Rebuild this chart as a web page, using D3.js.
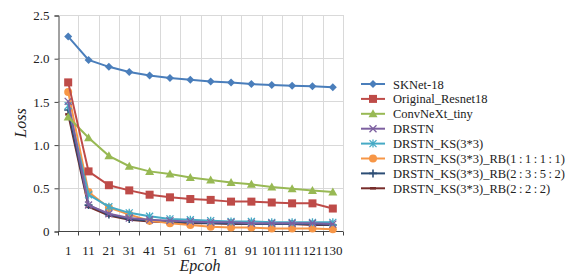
<!DOCTYPE html>
<html>
<head>
<meta charset="utf-8">
<script src="https://cdn.jsdelivr.net/npm/d3@7"></script>
<style>
  body { margin: 0; background: #fff; }
</style>
</head>
<body>
<svg id="chart" width="576" height="274"></svg>
<script>
// epochs on the x axis
const epochs = ["1", "11", "21", "31", "41", "51", "61", "71", "81", "91", "101", "111", "121", "130"];

// loss values
const skNet      = [2.25, 1.98, 1.90, 1.84, 1.80, 1.77, 1.75, 1.73, 1.72, 1.70, 1.69, 1.68, 1.675, 1.665];
const resnet18   = [1.72, 0.69, 0.53, 0.47, 0.42, 0.39, 0.37, 0.36, 0.34, 0.34, 0.33, 0.32, 0.32, 0.26];
const convNext   = [1.32, 1.08, 0.87, 0.75, 0.69, 0.66, 0.62, 0.59, 0.56, 0.54, 0.51, 0.49, 0.47, 0.45];
const drstn      = [1.50, 0.30, 0.20, 0.15, 0.13, 0.12, 0.11, 0.10, 0.10, 0.09, 0.09, 0.09, 0.09, 0.08];
const drstnKs    = [1.45, 0.42, 0.28, 0.21, 0.17, 0.14, 0.13, 0.12, 0.11, 0.11, 0.10, 0.10, 0.10, 0.10];
const drstnRb1   = [1.61, 0.45, 0.27, 0.19, 0.12, 0.09, 0.07, 0.05, 0.04, 0.04, 0.03, 0.03, 0.03, 0.02];
const drstnRb2   = [1.40, 0.30, 0.19, 0.14, 0.12, 0.11, 0.10, 0.09, 0.09, 0.08, 0.08, 0.08, 0.08, 0.07];
const drstnRb3   = [1.35, 0.28, 0.18, 0.13, 0.11, 0.10, 0.09, 0.09, 0.08, 0.08, 0.08, 0.08, 0.07, 0.07];

const yTicks = [0, 0.5, 1.0, 1.5, 2.0, 2.5];

const series = [
  { name: "SKNet-18", values: skNet, color: "#4a7ebb", marker: "diamond" },
  { name: "Original_Resnet18", values: resnet18, color: "#be4b48", marker: "square" },
  { name: "ConvNeXt_tiny", values: convNext, color: "#98b954", marker: "triangle" },
  { name: "DRSTN", values: drstn, color: "#7d60a0", marker: "x" },
  { name: "DRSTN_KS(3*3)", values: drstnKs, color: "#46aac5", marker: "star" },
  { name: "DRSTN_KS(3*3)_RB(1\u2009:\u20091\u2009:\u20091\u2009:\u20091)", values: drstnRb1, color: "#f79646", marker: "circle" },
  { name: "DRSTN_KS(3*3)_RB(2\u2009:\u20093\u2009:\u20095\u2009:\u20092)", values: drstnRb2, color: "#2c4d75", marker: "plus" },
  { name: "DRSTN_KS(3*3)_RB(2\u2009:\u20092\u2009:\u20092)", values: drstnRb3, color: "#772c2a", marker: "dash" }
];

const FONT = "Liberation Serif";

const svg = d3.select("#chart");
const plotLeft = 58, plotRight = 343, plotTop = 15, plotBottom = 231;

const x = d3.scaleBand().domain(epochs).range([plotLeft, plotRight]);
const y = d3.scaleLinear().domain([0, 2.5]).range([plotBottom, plotTop]);

// grid
const grid = svg.append("g").attr("stroke", "#d9d9d9").attr("stroke-width", 1);
yTicks.filter(d => d > 0).forEach(t => {
  grid.append("line").attr("x1", plotLeft).attr("x2", plotRight)
    .attr("y1", Math.round(y(t)) + 0.5).attr("y2", Math.round(y(t)) + 0.5);
});
epochs.forEach(e => {
  const gx = Math.round(x(e) + x.bandwidth()) + 0.5;
  grid.append("line").attr("x1", gx).attr("x2", gx).attr("y1", plotTop).attr("y2", plotBottom);
});

// y axis
const yAxis = svg.append("g")
  .attr("transform", `translate(${plotLeft + 0.5},0.5)`)
  .call(d3.axisLeft(y).tickValues(yTicks).tickSize(4).tickPadding(5)
    .tickFormat(d => d === 0 ? "0" : d3.format(".1f")(d)));
yAxis.select(".domain").attr("stroke", "#444");
yAxis.selectAll(".tick line").attr("stroke", "#444");
yAxis.selectAll("text").attr("fill", "#222")
  .style("font-family", FONT).style("font-size", "13px");

// x axis: ticks on the band boundaries, labels at band centres
const xg = svg.append("g").attr("transform", `translate(0,${plotBottom + 0.5})`);
xg.append("line").attr("x1", plotLeft).attr("x2", plotRight).attr("stroke", "#444");
[plotLeft].concat(epochs.map(e => x(e) + x.bandwidth())).forEach(b => {
  xg.append("line").attr("x1", Math.round(b) + 0.5).attr("x2", Math.round(b) + 0.5)
    .attr("y1", 0).attr("y2", 4).attr("stroke", "#444");
});
xg.selectAll("text.lbl").data(epochs).join("text")
  .attr("class", "lbl")
  .attr("x", d => x(d) + x.bandwidth() / 2)
  .attr("y", 23)
  .attr("text-anchor", "middle")
  .attr("fill", "#222")
  .style("font-family", FONT).style("font-size", "13px")
  .text(d => d);

// axis titles
svg.append("text").attr("x", 200).attr("y", 271).attr("text-anchor", "middle")
  .attr("fill", "#222").style("font-family", FONT).style("font-size", "16px")
  .style("font-style", "italic").text("Epcoh");
svg.append("text").attr("transform", "translate(26,123) rotate(-90)").attr("text-anchor", "middle")
  .attr("fill", "#222").style("font-family", FONT).style("font-size", "16px")
  .style("font-style", "italic").text("Loss");

function drawMarker(g, type, color) {
  switch (type) {
    case "diamond":
      g.append("path").attr("d", "M0,-4L4,0L0,4L-4,0Z").attr("fill", color); break;
    case "square":
      g.append("rect").attr("x", -4).attr("y", -4).attr("width", 8).attr("height", 8).attr("fill", color); break;
    case "triangle":
      g.append("path").attr("d", "M0,-4.5L4.5,3.5L-4.5,3.5Z").attr("fill", color); break;
    case "circle":
      g.append("circle").attr("r", 4).attr("fill", color); break;
    case "x":
      g.append("path").attr("d", "M-3.5,-3.5L3.5,3.5M-3.5,3.5L3.5,-3.5").attr("stroke", color).attr("stroke-width", 1.3); break;
    case "star":
      g.append("path").attr("d", "M-3.5,-3.5L3.5,3.5M-3.5,3.5L3.5,-3.5M0,-4L0,4").attr("stroke", color).attr("stroke-width", 1.3); break;
    case "plus":
      g.append("path").attr("d", "M-4,0L4,0M0,-4L0,4").attr("stroke", color).attr("stroke-width", 1.6); break;
    case "dash":
      g.append("path").attr("d", "M-3,0L3,0").attr("stroke", color).attr("stroke-width", 2.5); break;
  }
}

const line = d3.line()
  .x((d, i) => x(epochs[i]) + x.bandwidth() / 2)
  .y(d => y(d));

// draw from back to front, SKNet last so its line stays visible
series.slice().reverse().forEach(s => {
  const g = svg.append("g");
  g.append("path").datum(s.values).attr("d", line)
    .attr("fill", "none").attr("stroke", s.color).attr("stroke-width", 2);
  s.values.forEach((v, i) => {
    const m = g.append("g").attr("transform", `translate(${x(epochs[i]) + x.bandwidth() / 2},${y(v)})`);
    drawMarker(m, s.marker, s.color);
  });
});

// legend
const legend = svg.append("g").attr("transform", "translate(361,84)");
series.forEach((s, i) => {
  const row = legend.append("g").attr("transform", `translate(0,${i * 14.9})`);
  row.append("line").attr("x1", 0).attr("x2", 24).attr("stroke", s.color).attr("stroke-width", 2);
  drawMarker(row.append("g").attr("transform", "translate(12,0)"), s.marker, s.color);
  row.append("text").attr("x", 32).attr("y", 4.5).attr("fill", "#222")
    .style("font-family", FONT).style("font-size", "12.5px").text(s.name);
});
</script>
</body>
</html>
